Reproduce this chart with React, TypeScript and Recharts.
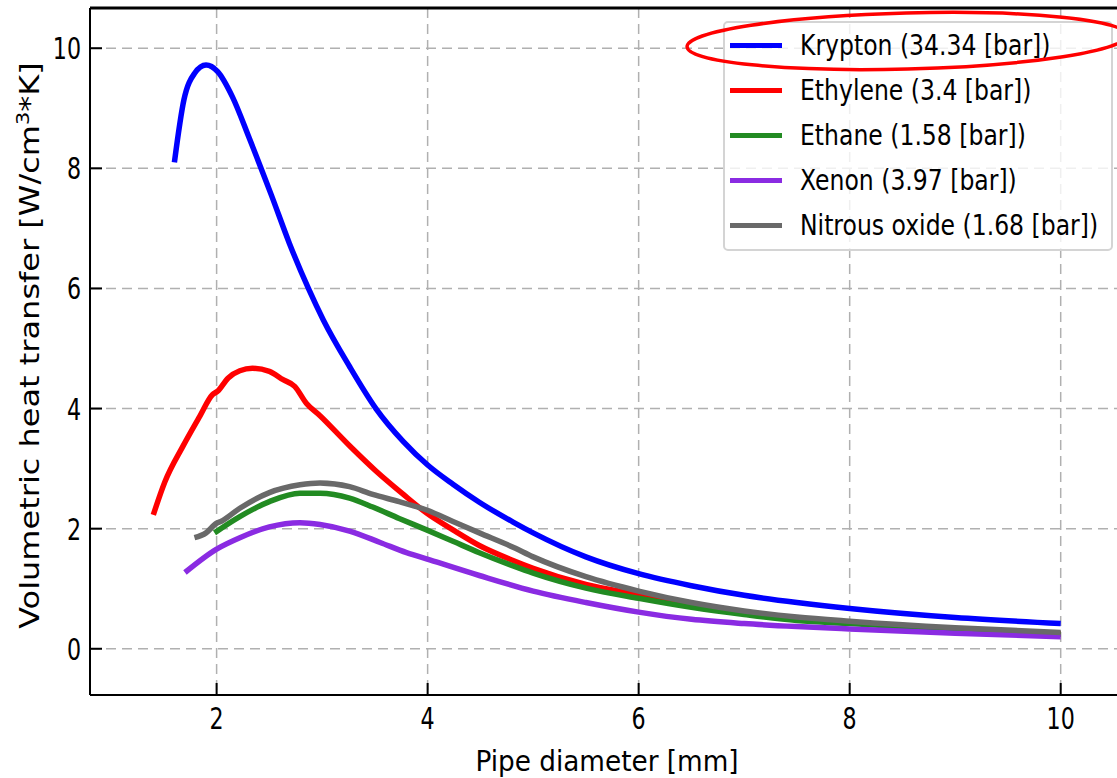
import React from 'react';
import { LineChart, Line, XAxis, YAxis, CartesianGrid, Legend, ReferenceLine } from 'recharts';

// pipe diameter [mm] / volumetric heat transfer [W/cm3*K]
const kryptonX = [1.6, 1.69, 1.79, 1.9, 2.01, 2.15, 2.31, 2.52, 2.69, 2.87, 3.01, 3.26, 3.51, 3.77, 4.0, 4.24, 4.49, 4.81, 5.0, 5.5, 6.0, 6.5, 7.0, 7.5, 8.0, 9.0, 10.0];
const kryptonY = [8.1, 9.14, 9.58, 9.72, 9.61, 9.19, 8.5, 7.55, 6.75, 6.0, 5.48, 4.7, 4.0, 3.45, 3.06, 2.74, 2.44, 2.11, 1.93, 1.53, 1.25, 1.05, 0.89, 0.77, 0.67, 0.52, 0.42];

const ethyleneX = [1.4, 1.51, 1.68, 1.84, 1.96, 2.01, 2.11, 2.22, 2.34, 2.5, 2.63, 2.74, 2.85, 2.98, 3.26, 3.51, 3.77, 3.99, 4.24, 4.49, 4.81, 5.0, 5.5, 6.0, 6.5, 7.0, 7.5, 8.0, 9.0, 10.0];
const ethyleneY = [2.23, 2.78, 3.37, 3.87, 4.23, 4.29, 4.51, 4.63, 4.67, 4.62, 4.48, 4.37, 4.09, 3.88, 3.38, 2.96, 2.57, 2.26, 1.98, 1.72, 1.47, 1.34, 1.07, 0.9, 0.73, 0.6, 0.51, 0.44, 0.33, 0.25];

const ethaneX = [1.98, 2.22, 2.5, 2.79, 2.98, 3.26, 3.48, 3.73, 3.99, 4.24, 4.49, 4.81, 5.0, 5.5, 6.0, 6.5, 7.0, 7.5, 8.0, 9.0, 10.0];
const ethaneY = [1.93, 2.2, 2.45, 2.59, 2.59, 2.51, 2.36, 2.17, 1.98, 1.79, 1.6, 1.38, 1.26, 1.01, 0.84, 0.69, 0.57, 0.47, 0.42, 0.32, 0.24];

const xenonX = [1.7, 2.0, 2.22, 2.5, 2.79, 2.98, 3.26, 3.55, 3.8, 4.02, 4.49, 5.0, 5.5, 6.0, 6.5, 7.0, 7.5, 8.0, 9.0, 10.0];
const xenonY = [1.27, 1.66, 1.85, 2.03, 2.1, 2.07, 1.96, 1.77, 1.6, 1.48, 1.22, 0.96, 0.77, 0.61, 0.49, 0.42, 0.37, 0.33, 0.26, 0.2];

const nitrousX = [1.79, 1.9, 2.0, 2.04, 2.22, 2.5, 2.79, 2.98, 3.26, 3.48, 3.73, 3.99, 4.24, 4.49, 4.81, 5.0, 5.5, 6.0, 6.5, 7.0, 7.5, 8.0, 9.0, 10.0];
const nitrousY = [1.85, 1.93, 2.09, 2.12, 2.34, 2.6, 2.73, 2.76, 2.7, 2.57, 2.45, 2.31, 2.12, 1.93, 1.69, 1.53, 1.2, 0.96, 0.77, 0.63, 0.53, 0.46, 0.35, 0.27];

const xTicks = [2, 4, 6, 8, 10];
const yTicks = [0, 2, 4, 6, 8, 10];

const toPoints = (xs: number[], ys: number[]) => xs.map((x, i) => ({ x, y: ys[i] }));

const series = [
  { name: 'Krypton (34.34 [bar])', color: '#0000ff', data: toPoints(kryptonX, kryptonY) },
  { name: 'Ethylene (3.4 [bar])', color: '#ff0000', data: toPoints(ethyleneX, ethyleneY) },
  { name: 'Ethane (1.58 [bar])', color: '#228b22', data: toPoints(ethaneX, ethaneY) },
  { name: 'Xenon (3.97 [bar])', color: '#8a2be2', data: toPoints(xenonX, xenonY) },
  { name: 'Nitrous oxide (1.68 [bar])', color: '#696969', data: toPoints(nitrousX, nitrousY) },
];

const FONT = '"DejaVu Sans", sans-serif';
const Y_MAX = 10.67;

const XTick = ({ x, y, payload }: any) => (
  <g transform={`translate(${x},${y}) scale(0.74,1)`}>
    <text textAnchor="middle" fontFamily={FONT} fontSize={30} fill="#000">{payload.value}</text>
  </g>
);

const YTick = ({ x, y, payload }: any) => (
  <g transform={`translate(${x},${y}) scale(0.74,1)`}>
    <text textAnchor="end" dy={11} fontFamily={FONT} fontSize={30} fill="#000">{payload.value}</text>
  </g>
);

const XTitle = ({ viewBox }: any) => (
  <g transform={`translate(${viewBox.x + viewBox.width / 2},${viewBox.y + 76}) scale(0.94,1)`}>
    <text textAnchor="middle" fontFamily={FONT} fontSize={28} fill="#000">Pipe diameter [mm]</text>
  </g>
);

const YTitle = ({ viewBox }: any) => (
  <g transform={`translate(${viewBox.x + 39},${viewBox.y + viewBox.height / 2 - 6}) rotate(-90) scale(1,0.85)`}>
    <text textAnchor="middle" fontFamily={FONT} fontSize={32} fill="#000">
      Volumetric heat transfer [W/cm<tspan dy={-12} fontSize={21}>3</tspan><tspan dy={12}>*K]</tspan>
    </text>
  </g>
);

const LegendBox = () => (
  <div
    style={{
      border: '2px solid #d4d4d4',
      borderRadius: 5,
      background: 'rgba(255,255,255,0.8)',
      width: 390,
      height: 230,
      boxSizing: 'border-box',
      overflow: 'hidden',
    }}
  >
    {series.map((s) => (
      <div key={s.name} style={{ height: 45, display: 'flex', alignItems: 'center' }}>
        <div style={{ marginLeft: 5, width: 52, height: 5, flexShrink: 0, background: s.color }} />
        <span
          style={{
            marginLeft: 18,
            fontFamily: FONT,
            fontSize: 28,
            whiteSpace: 'nowrap',
            display: 'inline-block',
            flexShrink: 0,
            transform: 'scaleX(0.84)',
            transformOrigin: 'left center',
            color: '#000',
          }}
        >
          {s.name}
        </span>
      </div>
    ))}
  </div>
);

export default function App() {
  return (
    <div style={{ position: 'absolute', left: 0, top: 0, width: 1117, height: 778, overflow: 'hidden', background: '#fff' }}>
      <LineChart width={1140} height={778} margin={{ top: 8, right: 16, bottom: 0, left: 0 }}>
        <CartesianGrid stroke="#b0b0b0" strokeWidth={1.5} strokeDasharray="10 6" />
        <XAxis
          type="number"
          dataKey="x"
          domain={[0.8, 10.6]}
          ticks={xTicks}
          allowDataOverflow
          height={83}
          axisLine={{ stroke: '#000', strokeWidth: 2 }}
          tickLine={{ stroke: '#000', strokeWidth: 2 }}
          tickSize={-12}
          tickMargin={46}
          tick={<XTick />}
          label={{ content: <XTitle /> }}
        />
        <YAxis
          type="number"
          domain={[-0.77, Y_MAX]}
          ticks={yTicks}
          allowDataOverflow
          width={90}
          axisLine={{ stroke: '#000', strokeWidth: 2 }}
          tickLine={{ stroke: '#000', strokeWidth: 2 }}
          tickSize={-12}
          tickMargin={21}
          tick={<YTick />}
          label={{ content: <YTitle /> }}
        />
        <ReferenceLine y={Y_MAX} stroke="#000" strokeWidth={3} />
        {series.map((s) => (
          <Line
            key={s.name}
            data={s.data}
            dataKey="y"
            name={s.name}
            type="monotone"
            stroke={s.color}
            strokeWidth={5.5}
            dot={false}
            activeDot={false}
            isAnimationActive={false}
          />
        ))}
        <Legend
          layout="vertical"
          align="center"
          verticalAlign="middle"
          content={<LegendBox />}
          wrapperStyle={{ left: 723, top: 21, width: 390, height: 230 }}
        />
      </LineChart>
      <svg width={1117} height={778} style={{ position: 'absolute', left: 0, top: 0, pointerEvents: 'none' }}>
        <ellipse cx={907} cy={41} rx={220} ry={28} fill="none" stroke="#ff0000" strokeWidth={3.5} transform="rotate(-1.5 907 41)" />
      </svg>
    </div>
  );
}
